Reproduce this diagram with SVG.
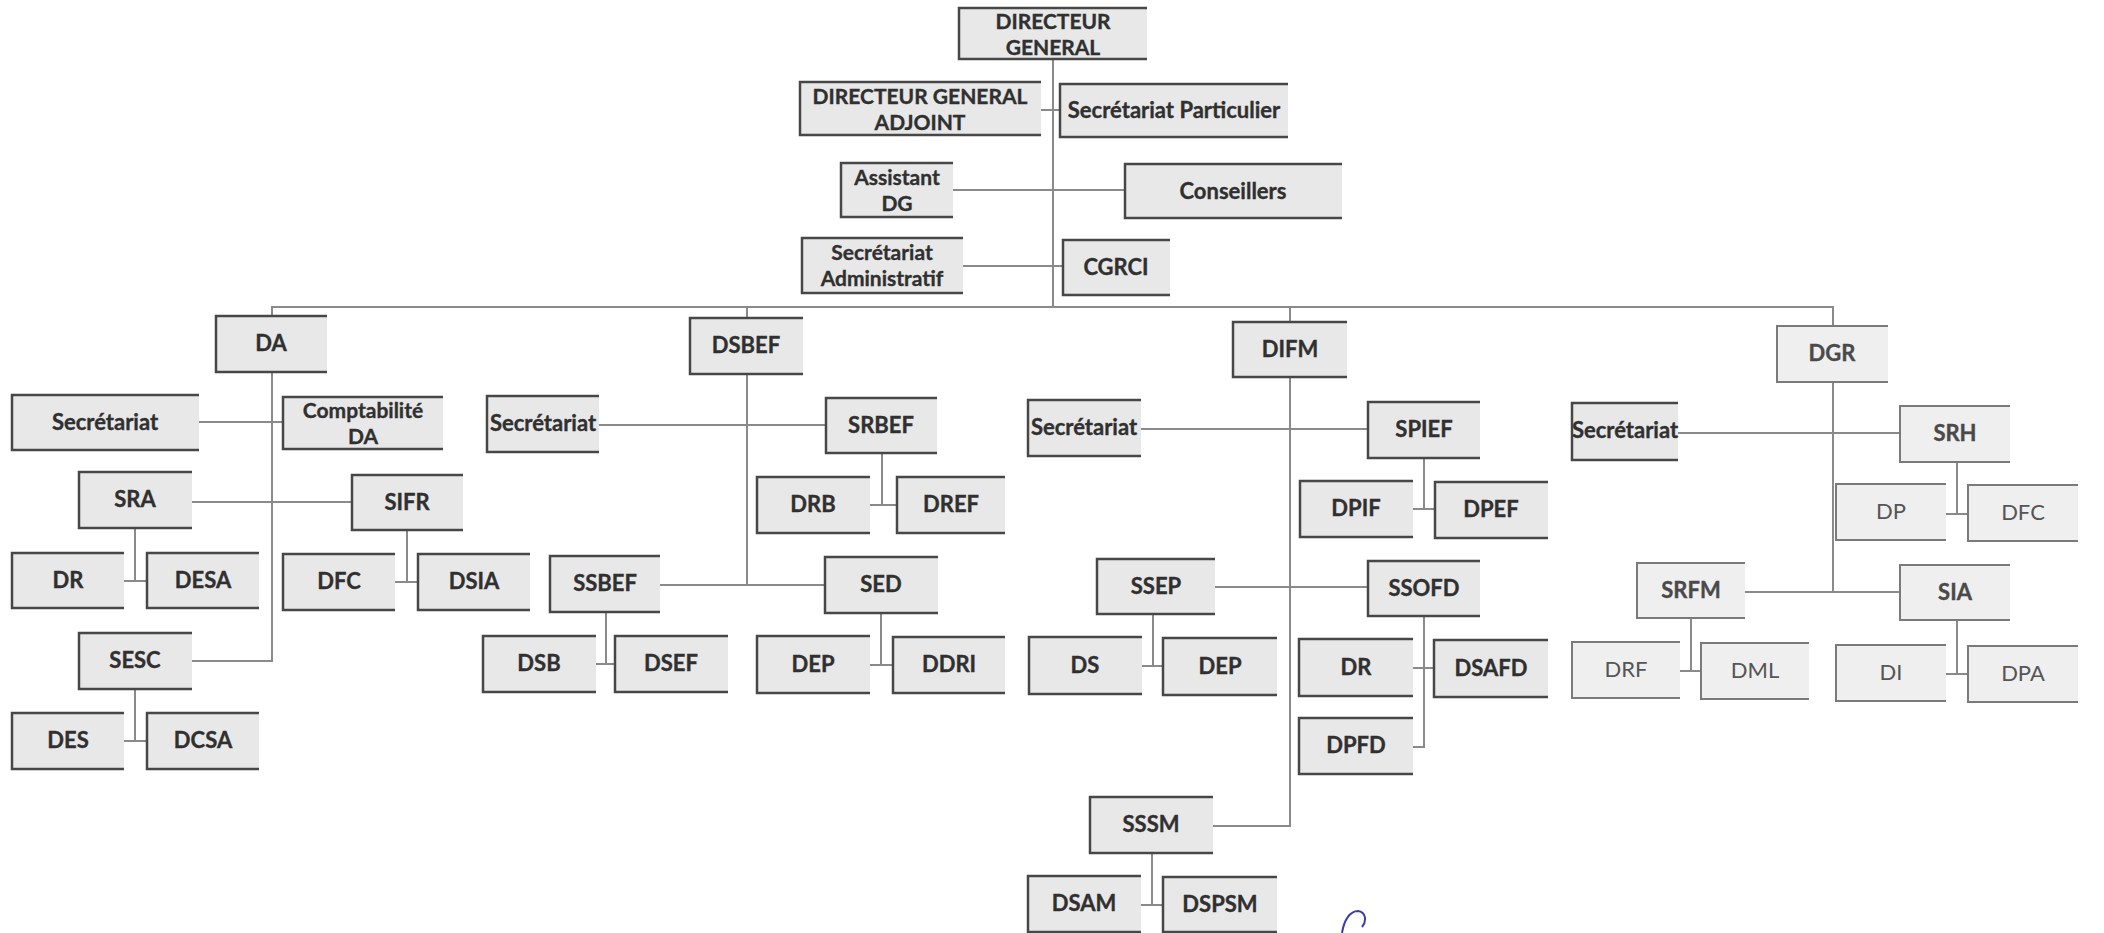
<svg xmlns="http://www.w3.org/2000/svg" width="2104" height="933" viewBox="0 0 2104 933">
<style>
.bx{fill:#e8e8e8;stroke:none}
.ed{fill:none;stroke:#474747;stroke-width:2.5}
.lb .bx{fill:#efefef}
.lb .ed{stroke:#7a7a7a;stroke-width:2}
text{font-family:Lato,"Open Sans","Liberation Sans",sans-serif;font-weight:700;font-size:22px;fill:#303030;stroke:#303030;stroke-width:0.35;text-anchor:middle}
text.t2{font-size:21px}
.lb text{fill:#4a4a4a;stroke:#4a4a4a}
.lt text{font-weight:400;fill:#555;stroke:none}
#connectors path{fill:none;stroke:#8a8a8a;stroke-width:2}
</style>
<rect width="2104" height="933" fill="#fff"/>
<g id="connectors">
<path d="M1053,59V307"/>
<path d="M1041,110H1060"/>
<path d="M953,190H1125"/>
<path d="M963,266H1063"/>
<path d="M272,316V307H1833V326"/>
<path d="M747,307V318"/>
<path d="M1290,307V322"/>
<path d="M272,372V661H192"/>
<path d="M199,422H283"/>
<path d="M192,502H352"/>
<path d="M135,528V581M124,581H147"/>
<path d="M407,530V582M395,582H418"/>
<path d="M135,689V741M124,741H147"/>
<path d="M747,374V585M660,585H825"/>
<path d="M599,425H826"/>
<path d="M882,453V505M870,505H897"/>
<path d="M606,612V664M596,664H615"/>
<path d="M881,613V665M870,665H893"/>
<path d="M1290,377V826H1213"/>
<path d="M1141,429H1368"/>
<path d="M1215,587H1368"/>
<path d="M1424,458V509M1413,509H1435"/>
<path d="M1153,614V666M1142,666H1163"/>
<path d="M1424,616V747H1413M1413,668H1434"/>
<path d="M1152,853V905M1141,905H1163"/>
<path d="M1833,382V592M1745,592H1900"/>
<path d="M1678,433H1900"/>
<path d="M1957,462V514M1946,514H1968"/>
<path d="M1957,620V674M1946,674H1968"/>
<path d="M1691,618V671M1680,671H1701"/>
</g>

<g id="n-dg"><rect class="bx" x="959" y="8" width="188" height="51"/><path class="ed" d="M1147,8H959V59H1147"/><text class="t2" x="1053" y="29">DIRECTEUR</text><text class="t2" x="1053" y="55">GENERAL</text></g>
<g id="n-dga"><rect class="bx" x="800" y="82" width="241" height="53"/><path class="ed" d="M1041,82H800V135H1041"/><text class="t2" x="920" y="104">DIRECTEUR GENERAL</text><text class="t2" x="920" y="130">ADJOINT</text></g>
<g id="n-secpart"><rect class="bx" x="1060" y="84" width="228" height="53"/><path class="ed" d="M1288,84H1060V137H1288"/><text x="1174" y="118">Secrétariat Particulier</text></g>
<g id="n-assistant"><rect class="bx" x="841" y="163" width="112" height="54"/><path class="ed" d="M953,163H841V217H953"/><text class="t2" x="897" y="185">Assistant</text><text class="t2" x="897" y="211">DG</text></g>
<g id="n-conseillers"><rect class="bx" x="1125" y="164" width="217" height="54"/><path class="ed" d="M1342,164H1125V218H1342"/><text x="1233" y="199">Conseillers</text></g>
<g id="n-secadmin"><rect class="bx" x="802" y="238" width="161" height="55"/><path class="ed" d="M963,238H802V293H963"/><text class="t2" x="882" y="260">Secrétariat</text><text class="t2" x="882" y="286">Administratif</text></g>
<g id="n-cgrci"><rect class="bx" x="1063" y="240" width="107" height="55"/><path class="ed" d="M1170,240H1063V295H1170"/><text x="1116" y="275">CGRCI</text></g>

<g id="n-da"><rect class="bx" x="216" y="316" width="111" height="56"/><path class="ed" d="M327,316H216V372H327"/><text x="271" y="351">DA</text></g>
<g id="n-da-sec"><rect class="bx" x="12" y="395" width="187" height="55"/><path class="ed" d="M199,395H12V450H199"/><text x="105" y="430">Secrétariat</text></g>
<g id="n-compta"><rect class="bx" x="283" y="397" width="160" height="52"/><path class="ed" d="M443,397H283V449H443"/><text class="t2" x="363" y="418">Comptabilité</text><text class="t2" x="363" y="444">DA</text></g>
<g id="n-sra"><rect class="bx" x="79" y="472" width="113" height="56"/><path class="ed" d="M192,472H79V528H192"/><text x="135" y="507">SRA</text></g>
<g id="n-sifr"><rect class="bx" x="352" y="475" width="111" height="55"/><path class="ed" d="M463,475H352V530H463"/><text x="407" y="510">SIFR</text></g>
<g id="n-dr"><rect class="bx" x="12" y="553" width="112" height="55"/><path class="ed" d="M124,553H12V608H124"/><text x="68" y="588">DR</text></g>
<g id="n-desa"><rect class="bx" x="147" y="553" width="112" height="55"/><path class="ed" d="M259,553H147V608H259"/><text x="203" y="588">DESA</text></g>
<g id="n-dfc"><rect class="bx" x="283" y="554" width="112" height="56"/><path class="ed" d="M395,554H283V610H395"/><text x="339" y="589">DFC</text></g>
<g id="n-dsia"><rect class="bx" x="418" y="554" width="112" height="56"/><path class="ed" d="M530,554H418V610H530"/><text x="474" y="589">DSIA</text></g>
<g id="n-sesc"><rect class="bx" x="79" y="633" width="113" height="56"/><path class="ed" d="M192,633H79V689H192"/><text x="135" y="668">SESC</text></g>
<g id="n-des"><rect class="bx" x="12" y="713" width="112" height="56"/><path class="ed" d="M124,713H12V769H124"/><text x="68" y="748">DES</text></g>
<g id="n-dcsa"><rect class="bx" x="147" y="713" width="112" height="56"/><path class="ed" d="M259,713H147V769H259"/><text x="203" y="748">DCSA</text></g>

<g id="n-dsbef"><rect class="bx" x="690" y="318" width="113" height="56"/><path class="ed" d="M803,318H690V374H803"/><text x="746" y="353">DSBEF</text></g>
<g id="n-dsbef-sec"><rect class="bx" x="487" y="396" width="112" height="56"/><path class="ed" d="M599,396H487V452H599"/><text x="543" y="431">Secrétariat</text></g>
<g id="n-srbef"><rect class="bx" x="826" y="398" width="111" height="55"/><path class="ed" d="M937,398H826V453H937"/><text x="881" y="433">SRBEF</text></g>
<g id="n-drb"><rect class="bx" x="757" y="477" width="113" height="56"/><path class="ed" d="M870,477H757V533H870"/><text x="813" y="512">DRB</text></g>
<g id="n-dref"><rect class="bx" x="897" y="477" width="108" height="56"/><path class="ed" d="M1005,477H897V533H1005"/><text x="951" y="512">DREF</text></g>
<g id="n-ssbef"><rect class="bx" x="550" y="556" width="110" height="56"/><path class="ed" d="M660,556H550V612H660"/><text x="605" y="591">SSBEF</text></g>
<g id="n-sed"><rect class="bx" x="825" y="557" width="113" height="56"/><path class="ed" d="M938,557H825V613H938"/><text x="881" y="592">SED</text></g>
<g id="n-dsb"><rect class="bx" x="483" y="636" width="113" height="56"/><path class="ed" d="M596,636H483V692H596"/><text x="539" y="671">DSB</text></g>
<g id="n-dsef"><rect class="bx" x="615" y="636" width="113" height="56"/><path class="ed" d="M728,636H615V692H728"/><text x="671" y="671">DSEF</text></g>
<g id="n-dep"><rect class="bx" x="757" y="636" width="113" height="57"/><path class="ed" d="M870,636H757V693H870"/><text x="813" y="672">DEP</text></g>
<g id="n-ddri"><rect class="bx" x="893" y="637" width="112" height="56"/><path class="ed" d="M1005,637H893V693H1005"/><text x="949" y="672">DDRI</text></g>

<g id="n-difm"><rect class="bx" x="1233" y="322" width="114" height="55"/><path class="ed" d="M1347,322H1233V377H1347"/><text x="1290" y="357">DIFM</text></g>
<g id="n-difm-sec"><rect class="bx" x="1028" y="400" width="113" height="56"/><path class="ed" d="M1141,400H1028V456H1141"/><text x="1084" y="435">Secrétariat</text></g>
<g id="n-spief"><rect class="bx" x="1368" y="402" width="112" height="56"/><path class="ed" d="M1480,402H1368V458H1480"/><text x="1424" y="437">SPIEF</text></g>
<g id="n-dpif"><rect class="bx" x="1300" y="481" width="113" height="56"/><path class="ed" d="M1413,481H1300V537H1413"/><text x="1356" y="516">DPIF</text></g>
<g id="n-dpef"><rect class="bx" x="1435" y="482" width="113" height="56"/><path class="ed" d="M1548,482H1435V538H1548"/><text x="1491" y="517">DPEF</text></g>
<g id="n-ssep"><rect class="bx" x="1097" y="559" width="118" height="55"/><path class="ed" d="M1215,559H1097V614H1215"/><text x="1156" y="594">SSEP</text></g>
<g id="n-ssofd"><rect class="bx" x="1368" y="561" width="112" height="55"/><path class="ed" d="M1480,561H1368V616H1480"/><text x="1424" y="596">SSOFD</text></g>
<g id="n-ds"><rect class="bx" x="1029" y="637" width="113" height="57"/><path class="ed" d="M1142,637H1029V694H1142"/><text x="1085" y="673">DS</text></g>
<g id="n-difm-dep"><rect class="bx" x="1163" y="638" width="114" height="57"/><path class="ed" d="M1277,638H1163V695H1277"/><text x="1220" y="674">DEP</text></g>
<g id="n-difm-dr"><rect class="bx" x="1299" y="639" width="114" height="57"/><path class="ed" d="M1413,639H1299V696H1413"/><text x="1356" y="675">DR</text></g>
<g id="n-dsafd"><rect class="bx" x="1434" y="640" width="114" height="57"/><path class="ed" d="M1548,640H1434V697H1548"/><text x="1491" y="676">DSAFD</text></g>
<g id="n-dpfd"><rect class="bx" x="1299" y="718" width="114" height="56"/><path class="ed" d="M1413,718H1299V774H1413"/><text x="1356" y="753">DPFD</text></g>
<g id="n-sssm"><rect class="bx" x="1090" y="797" width="123" height="56"/><path class="ed" d="M1213,797H1090V853H1213"/><text x="1151" y="832">SSSM</text></g>
<g id="n-dsam"><rect class="bx" x="1028" y="876" width="113" height="56"/><path class="ed" d="M1141,876H1028V932H1141"/><text x="1084" y="911">DSAM</text></g>
<g id="n-dspsm"><rect class="bx" x="1163" y="877" width="114" height="55"/><path class="ed" d="M1277,877H1163V932H1277"/><text x="1220" y="912">DSPSM</text></g>

<g id="n-dgr" class="lb"><rect class="bx" x="1777" y="326" width="111" height="56"/><path class="ed" d="M1888,326H1777V382H1888"/><text x="1832" y="361">DGR</text></g>
<g id="n-dgr-sec"><rect class="bx" x="1572" y="403" width="106" height="57"/><path class="ed" d="M1678,403H1572V460H1678"/><text x="1625" y="438">Secrétariat</text></g>
<g id="n-srh" class="lb"><rect class="bx" x="1900" y="406" width="110" height="56"/><path class="ed" d="M2010,406H1900V462H2010"/><text x="1955" y="441">SRH</text></g>
<g id="n-dp" class="lb lt"><rect class="bx" x="1836" y="484" width="110" height="56"/><path class="ed" d="M1946,484H1836V540H1946"/><text x="1891" y="519">DP</text></g>
<g id="n-dgr-dfc" class="lb lt"><rect class="bx" x="1968" y="485" width="110" height="56"/><path class="ed" d="M2078,485H1968V541H2078"/><text x="2023" y="520">DFC</text></g>
<g id="n-srfm" class="lb"><rect class="bx" x="1637" y="563" width="108" height="55"/><path class="ed" d="M1745,563H1637V618H1745"/><text x="1691" y="598">SRFM</text></g>
<g id="n-sia" class="lb"><rect class="bx" x="1900" y="565" width="110" height="55"/><path class="ed" d="M2010,565H1900V620H2010"/><text x="1955" y="600">SIA</text></g>
<g id="n-drf" class="lb lt"><rect class="bx" x="1572" y="642" width="108" height="56"/><path class="ed" d="M1680,642H1572V698H1680"/><text x="1626" y="677">DRF</text></g>
<g id="n-dml" class="lb lt"><rect class="bx" x="1701" y="643" width="108" height="56"/><path class="ed" d="M1809,643H1701V699H1809"/><text x="1755" y="678">DML</text></g>
<g id="n-di" class="lb lt"><rect class="bx" x="1836" y="645" width="110" height="56"/><path class="ed" d="M1946,645H1836V701H1946"/><text x="1891" y="680">DI</text></g>
<g id="n-dpa" class="lb lt"><rect class="bx" x="1968" y="646" width="110" height="56"/><path class="ed" d="M2078,646H1968V702H2078"/><text x="2023" y="681">DPA</text></g>

<path d="M1342,933C1344,920 1350,911 1358,911C1366,912 1367,921 1362,927" fill="none" stroke="#3a3fa8" stroke-width="2"/>
</svg>
